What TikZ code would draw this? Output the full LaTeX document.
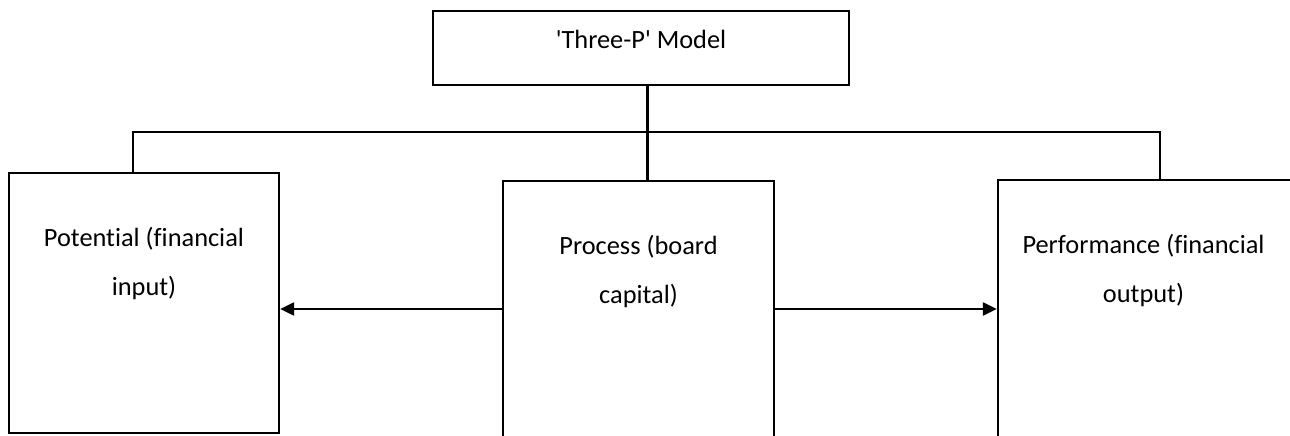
\documentclass[tikz,border=0pt]{standalone}
\usepackage{fontspec}
\setmainfont{Carlito}[Ligatures={NoCommon}]
\usetikzlibrary{arrows.meta,positioning,calc}

\begin{document}
\begin{tikzpicture}[
  box/.style={rectangle,draw,line width=1.4pt,inner sep=0pt},
  lbl/.style={align=center,font=\fontsize{15}{28}\selectfont},
  link/.style={line width=1.4pt},
  arr/.style={line width=1.4pt,-{Triangle[length=0.28cm,width=0.26cm]}}]
\clip (0,0) rectangle (25.8,-8.72);

% model box
\node[box,minimum width=8.32cm, minimum height=1.48cm, name=model] at (12.82,-0.96) {};
\node[lbl,name=model_txt] at (12.82,-0.78) {\textquotesingle Three-P\textquotesingle{} Model};

% the three P boxes
\node[box,minimum width=5.4cm, minimum height=5.2cm, name=potential] at (2.88,-6.06) {};
\node[box,minimum width=5.42cm, minimum height=5.3cm, name=process] at (12.77,-6.27) {};
\node[box,minimum width=5.9cm, minimum height=5.3cm, name=performance] at (22.91,-6.25) {};

% texts inside
\node[lbl,name=potential_txt] at ($(potential.north)+(0,-1.84)$) {Potential (financial\\input)};
\node[lbl,name=process_txt] at ($(process.north)+(0,-1.84)$) {Process (board\\capital)};
\node[lbl,name=performance_txt] at ($(performance.north)+(-0.04,-1.84)$) {Performance (financial\\output)};

% tree lines
\coordinate (bus) at (12.95,-2.64);
\draw[link] (model.south -| bus) -- (process.north -| bus);
\draw[link] ([xshift=-0.22cm]potential.north) |- (bus) -| ([xshift=0.29cm]performance.north);

% arrows
\coordinate (arrow_y) at (0,-6.18);
\draw[arr] (process.west |- arrow_y) -- (potential.east |- arrow_y);
\draw[arr] (process.east |- arrow_y) -- (performance.west |- arrow_y);
\end{tikzpicture}
\end{document}
